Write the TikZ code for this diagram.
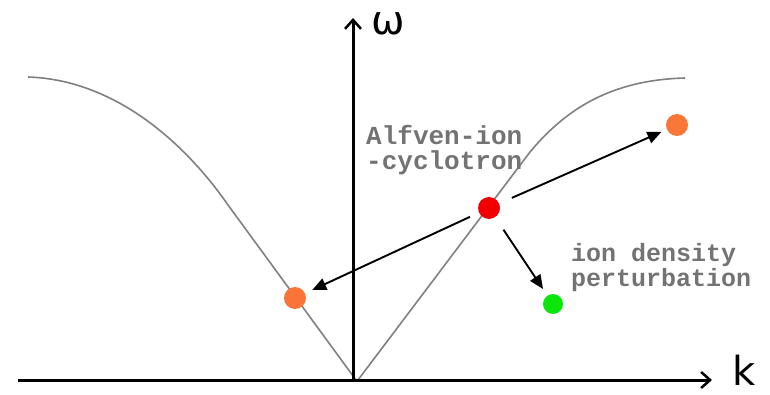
\documentclass[tikz,border=0pt]{standalone}
\usepackage{fontspec}
\setmainfont{DejaVu Sans}
\newfontfamily\monof{Liberation Mono}
\usetikzlibrary{arrows.meta}
\begin{document}
\begin{tikzpicture}[x=1pt,y=-1pt,
  axis/.style={line width=3pt,-{Straight Barb[length=9pt,width=16pt,line width=2.5pt]}},
  curve/.style={draw=black!50,line width=1.6pt},
  dot/.style={circle,inner sep=0pt,minimum size=#1},
  pointer/.style={line width=1.9pt,-{Triangle[length=14pt,width=12pt]}},
  axlbl/.style={font=\fontsize{40}{40}\selectfont,inner sep=0pt,text depth=0pt,anchor=base},
  lbl/.style={font=\monof\bfseries\fontsize{26}{25}\selectfont,text=black!55,align=left,inner sep=0pt,anchor=north west}]
\useasboundingbox (0,0) rectangle (770,395);
\coordinate (xe) at (712,380);
\coordinate (xs) at (18,380);
\coordinate (ye) at (353,18);
\coordinate (yb) at (353,380);
% curves
\draw[curve] (356,380) -- (228,205) .. controls (190,150) and (120,80) .. (28,77);
\draw[curve] (358,380) -- (530,152) .. controls (565,110) and (610,80) .. (685,78);
% axes
\draw[axis] (xs) -- (xe);
\draw[axis] (yb) -- (ye);
\node[axlbl] (w) at (388,35) {ω};
\node[axlbl] (k) at (744,385) {k};
% labels
\node[lbl] (alf) at (366,125) {Alfven-ion\\-cyclotron};
\node[lbl,font=\monof\bfseries\fontsize{25}{25}\selectfont] (ion) at (571,243) {ion density\\perturbation};
% dots
\node[dot=22pt,fill={rgb,255:red,250;green,115;blue,55}] (lo) at (295,298) {};
\node[dot=22pt,fill={rgb,255:red,240;green,0;blue,0}] (rd) at (489,208) {};
\node[dot=22pt,fill={rgb,255:red,250;green,120;blue,55}] (ro) at (677,125) {};
\node[dot=20pt,fill={rgb,255:red,10;green,230;blue,10}] (gr) at (553,304) {};
% arrows
\draw[pointer,shorten <=21pt,shorten >=19pt] (rd.center) -- (lo.center);
\draw[pointer,shorten <=25pt,shorten >=17pt] (rd.center) -- (ro.center);
\draw[pointer,shorten <=26pt,shorten >=18pt] (rd.center) -- (gr.center);
\end{tikzpicture}
\end{document}
